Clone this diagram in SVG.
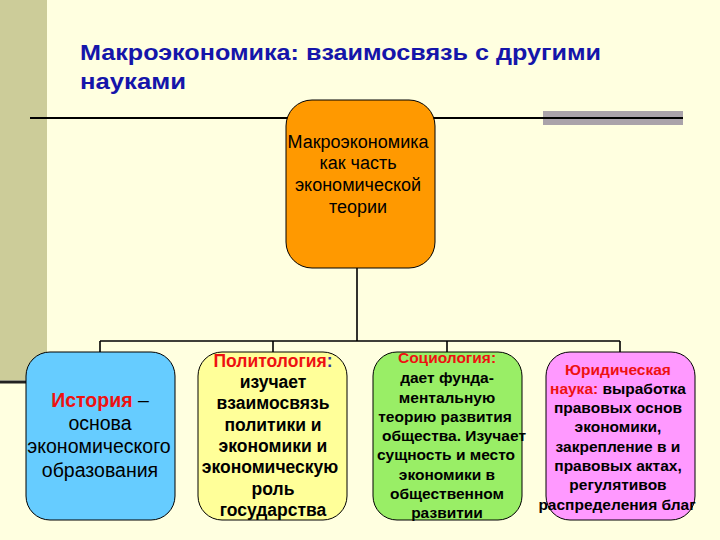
<svg xmlns="http://www.w3.org/2000/svg" width="720" height="540" viewBox="0 0 720 540">
<style>
.bg{fill:#FFFFE0}
.node{stroke:#000;stroke-width:1}
.t{font-family:"Liberation Sans",Arial,sans-serif;fill:#000;text-anchor:middle}
.b{font-weight:bold}
.red{fill:#EE1111}
.conn{stroke:#000;stroke-width:1.6;fill:none}
.title{font-family:"Liberation Sans",Arial,sans-serif;font-weight:bold;font-size:22px;fill:#1515AA}
</style>
<rect class="bg" x="0" y="0" width="720" height="540"/>
<rect x="0" y="0" width="47" height="380" fill="#CCCC99"/>
<line x1="0" y1="382" x2="28" y2="382" stroke="#222" stroke-width="3"/>
<g id="title">
<text class="title" x="80" y="60" textLength="521" lengthAdjust="spacingAndGlyphs">Макроэкономика: взаимосвязь с другими</text>
<text class="title" x="80" y="89" textLength="106" lengthAdjust="spacingAndGlyphs">науками</text>
</g>
<g id="rule">
<rect x="543" y="111" width="140" height="14" fill="#AAA3AA"/>
<line x1="30" y1="118" x2="683" y2="118" stroke="#000" stroke-width="2"/>
</g>
<g id="connectors">
<path class="conn" d="M357,268 V341 M100,341 H620 M100,341 V352 M273,341 V352 M447,341 V352 M620,341 V352"/>
</g>
<g id="n-macro">
<rect class="node" x="286" y="100" width="149" height="168" rx="26" fill="#FF9900"/>
<text class="t" font-size="18" x="358" y="148">Макроэкономика</text>
<text class="t" font-size="18" x="358" y="169">как часть</text>
<text class="t" font-size="18" x="358" y="191">экономической</text>
<text class="t" font-size="18" x="358" y="213">теории</text>
</g>
<g id="n-history">
<rect class="node" x="26" y="352" width="149" height="168" rx="24" fill="#66CCFF"/>
<text class="t" font-size="19.5" x="100" y="407"><tspan class="b red">История</tspan> –</text>
<text class="t" font-size="19.5" x="100" y="430">основа</text>
<text class="t" font-size="19.5" x="99" y="453">экономического</text>
<text class="t" font-size="19.5" x="100" y="477">образования</text>
</g>
<g id="n-polit">
<rect class="node" x="198" y="352" width="149" height="168" rx="24" fill="#FFFF99"/>
<text class="t b" font-size="17.5" x="273" y="367"><tspan class="red">Политология</tspan><tspan fill="#333399">:</tspan></text>
<text class="t b" font-size="17.5" x="273" y="388">изучает</text>
<text class="t b" font-size="17.5" x="273" y="409">взаимосвязь</text>
<text class="t b" font-size="17.5" x="273" y="431">политики и</text>
<text class="t b" font-size="17.5" x="273" y="452">экономики и</text>
<text class="t b" font-size="17.5" x="270" y="473">экономическую</text>
<text class="t b" font-size="17.5" x="273" y="495">роль</text>
<text class="t b" font-size="17.5" x="273" y="516">государства</text>
</g>
<g id="n-socio">
<rect class="node" x="373" y="352" width="149" height="168" rx="24" fill="#99EE66"/>
<text class="t b" font-size="15.5" x="447" y="363"><tspan class="red">Социология:</tspan></text>
<text class="t b" font-size="15.5" x="447" y="383">дает фунда-</text>
<text class="t b" font-size="15.5" x="447" y="403">ментальную</text>
<text class="t b" font-size="15.5" x="445" y="422">теорию развития</text>
<text class="t b" font-size="15.5" x="454" y="441">общества. Изучает</text>
<text class="t b" font-size="15.5" x="446" y="460">сущность и место</text>
<text class="t b" font-size="15.5" x="447" y="480">экономики в</text>
<text class="t b" font-size="15.5" x="447" y="499">общественном</text>
<text class="t b" font-size="15.5" x="447" y="518">развитии</text>
</g>
<g id="n-law">
<rect class="node" x="546" y="352" width="149" height="168" rx="24" fill="#FF99FF"/>
<text class="t b" font-size="15.5" x="618" y="375"><tspan class="red">Юридическая</tspan></text>
<text class="t b" font-size="15.5" x="618" y="394"><tspan class="red">наука:</tspan> выработка</text>
<text class="t b" font-size="15.5" x="618" y="413">правовых основ</text>
<text class="t b" font-size="15.5" x="618" y="432">экономики,</text>
<text class="t b" font-size="15.5" x="618" y="452">закрепление в и</text>
<text class="t b" font-size="15.5" x="618" y="471">правовых актах,</text>
<text class="t b" font-size="15.5" x="618" y="490">регулятивов</text>
<text class="t b" font-size="15.5" x="617" y="510">распределения благ</text>
</g>
</svg>
